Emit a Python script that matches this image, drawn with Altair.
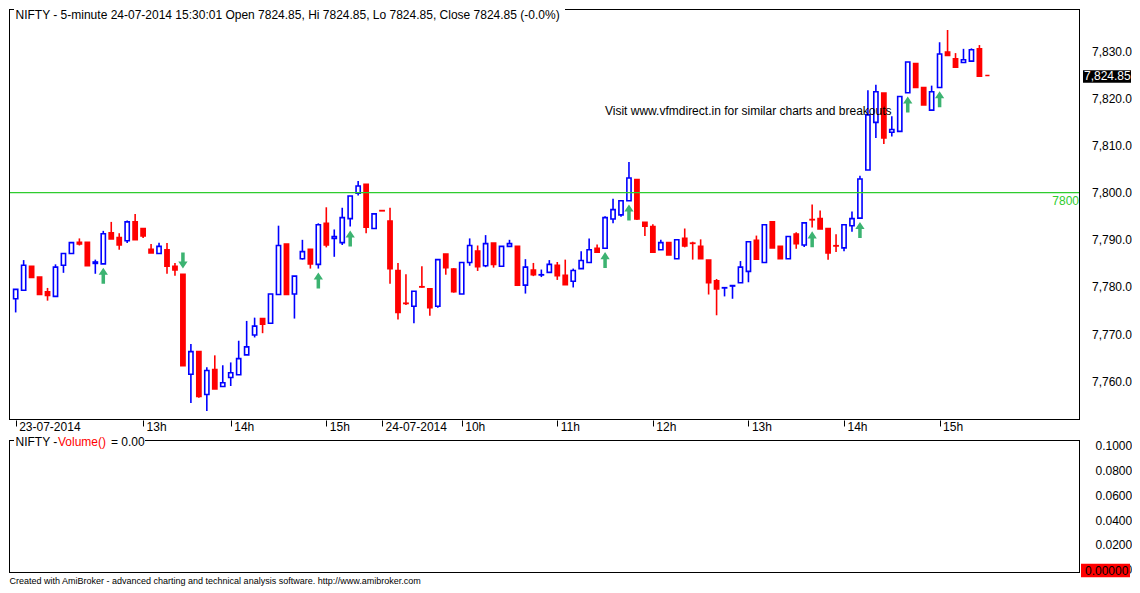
import json
import pandas as pd
import altair as alt

# ---------------- data ----------------
opens = [7777.5, 7779.3, 7784.4, 7782.1, 7779.0, 7778.0, 7784.6, 7787.1, 7789.5, 7789.5,
         7785.0, 7784.9, 7791.5, 7790.5, 7789.8, 7793.8, 7792.4, 7788.0, 7787.1, 7787.9,
         7784.4, 7782.7, 7761.5, 7766.3, 7757.2, 7762.5, 7758.9, 7760.8, 7761.4, 7765.6,
         7769.8, 7773.3, 7772.3, 7778.4, 7789.1, 7778.5, 7786.0, 7788.0, 7784.8, 7793.5,
         7790.3, 7789.4, 7794.5, 7799.9, 7801.8, 7792.4, 7796.2, 7794.0, 7783.5, 7776.55,
         7775.9, 7780.05, 7779.6, 7775.9, 7787.0, 7783.8, 7778.5, 7785.2, 7787.6, 7784.5,
         7789.3, 7784.4, 7788.6, 7788.6, 7780.4, 7783.6, 7782.55, 7783.1, 7784.6, 7782.5,
         7781.2, 7783.9, 7785.2, 7788.2, 7788.2, 7794.4, 7795.3, 7798.3, 7802.8, 7793.7,
         7792.8, 7787.9, 7789.4, 7786.0, 7790.3, 7789.3, 7788.6, 7785.7, 7781.3, 7779.8,
         7780.2, 7780.9, 7783.3, 7789.9, 7785.2, 7793.8, 7788.6, 7786.0, 7791.2, 7788.9,
         7794.3, 7794.5, 7792.4, 7788.75, 7788.3, 7793.0, 7794.6, 7804.8, 7814.9, 7821.1,
         7812.8, 7813.0, 7821.2, 7827.4, 7822.3, 7817.5, 7822.3, 7829.8, 7828.4, 7827.6,
         7827.9, 7830.5, 7824.85]
highs = [7779.5, 7785.7, 7784.4, 7782.1, 7779.8, 7784.8, 7787.1, 7789.4, 7790.3, 7789.5,
         7785.8, 7791.9, 7793.8, 7791.4, 7794.1, 7795.5, 7792.4, 7789.1, 7789.4, 7789.3,
         7785.1, 7782.7, 7767.9, 7766.3, 7763.0, 7765.5, 7763.4, 7764.0, 7768.6, 7772.8,
         7773.5, 7773.3, 7778.5, 7793.0, 7789.1, 7782.3, 7790.0, 7788.0, 7793.5, 7796.9,
         7792.2, 7796.8, 7799.3, 7802.5, 7801.8, 7795.5, 7796.2, 7796.8, 7785.1, 7782.7,
         7779.1, 7784.4, 7779.6, 7785.8, 7787.0, 7784.0, 7785.2, 7790.3, 7788.8, 7791.0,
         7789.3, 7788.6, 7790.0, 7788.6, 7785.9, 7785.1, 7783.7, 7785.7, 7785.3, 7785.8,
         7783.9, 7787.6, 7790.3, 7789.0, 7795.0, 7798.7, 7798.3, 7806.5, 7802.8, 7793.7,
         7793.3, 7790.0, 7789.4, 7790.0, 7792.4, 7789.6, 7790.1, 7785.7, 7781.7, 7779.85,
         7780.3, 7785.5, 7789.6, 7790.9, 7793.2, 7793.8, 7788.6, 7790.7, 7791.6, 7793.6,
         7797.5, 7796.2, 7792.4, 7791.2, 7793.2, 7796.0, 7803.6, 7821.7, 7822.9, 7821.1,
         7816.2, 7820.4, 7827.7, 7827.4, 7822.3, 7822.7, 7831.9, 7834.5, 7829.6, 7830.5,
         7830.6, 7831.3, 7824.85]
lows = [7774.6, 7779.3, 7782.0, 7778.4, 7777.1, 7778.0, 7783.0, 7787.1, 7788.8, 7784.5,
        7782.8, 7784.9, 7790.2, 7787.9, 7789.3, 7790.0, 7790.4, 7787.2, 7787.1, 7782.8,
        7782.4, 7763.3, 7755.4, 7756.5, 7753.7, 7758.4, 7758.9, 7759.0, 7761.4, 7765.6,
        7769.3, 7770.2, 7772.3, 7778.4, 7778.4, 7773.3, 7785.8, 7783.9, 7783.9, 7788.4,
        7786.4, 7788.9, 7792.8, 7799.4, 7791.4, 7792.4, 7796.15, 7780.7, 7773.1, 7776.2,
        7772.3, 7779.85, 7773.9, 7775.6, 7782.6, 7778.8, 7778.5, 7784.5, 7783.4, 7784.2,
        7784.1, 7784.4, 7788.6, 7780.2, 7778.6, 7782.3, 7782.1, 7783.1, 7781.5, 7780.5,
        7779.9, 7783.9, 7785.2, 7787.4, 7788.2, 7793.5, 7794.9, 7798.3, 7794.2, 7790.8,
        7787.4, 7787.9, 7786.8, 7786.0, 7788.4, 7785.8, 7786.0, 7778.4, 7774.0, 7778.0,
        7777.5, 7780.9, 7781.0, 7785.9, 7785.2, 7788.3, 7786.0, 7786.0, 7788.1, 7788.5,
        7792.6, 7792.3, 7785.8, 7787.4, 7787.6, 7791.7, 7794.6, 7804.8, 7811.6, 7810.3,
        7811.9, 7813.0, 7821.2, 7822.2, 7818.6, 7817.5, 7822.3, 7829.1, 7826.6, 7827.5,
        7827.9, 7824.7, 7824.85]
closes = [7779.5, 7784.6, 7782.0, 7778.4, 7778.2, 7784.2, 7787.1, 7789.4, 7789.1, 7784.5,
          7785.3, 7791.3, 7790.2, 7788.9, 7793.8, 7790.0, 7790.8, 7787.2, 7788.6, 7784.4,
          7783.6, 7763.3, 7766.3, 7756.8, 7762.3, 7758.4, 7759.7, 7761.8, 7764.8, 7767.3,
          7771.7, 7772.1, 7778.5, 7788.8, 7778.4, 7782.3, 7787.5, 7784.9, 7793.2, 7788.9,
          7790.7, 7794.7, 7799.3, 7801.4, 7792.7, 7795.5, 7796.15, 7783.9, 7774.6, 7776.5,
          7779.1, 7780.0, 7775.6, 7785.8, 7784.1, 7779.0, 7785.2, 7788.8, 7784.3, 7789.2,
          7784.8, 7788.6, 7789.2, 7780.4, 7784.2, 7782.6, 7782.6, 7784.8, 7782.4, 7780.5,
          7783.5, 7785.6, 7787.9, 7787.4, 7794.7, 7796.4, 7798.3, 7803.1, 7794.4, 7792.9,
          7787.4, 7789.4, 7786.8, 7790.0, 7788.7, 7789.25, 7786.0, 7780.9, 7779.6, 7779.85,
          7780.3, 7784.2, 7789.6, 7785.9, 7793.2, 7788.3, 7786.0, 7790.7, 7789.2, 7793.6,
          7794.25, 7792.3, 7787.2, 7788.7, 7793.2, 7794.5, 7802.9, 7816.5, 7821.4, 7811.6,
          7813.4, 7820.4, 7827.7, 7822.3, 7818.6, 7821.4, 7829.4, 7829.1, 7826.6, 7828.2,
          7830.3, 7824.7, 7824.85]

buy_arrows = [11, 38, 42, 74, 77, 100, 106, 112, 116]   # bar index with up arrow
sell_arrows = [21]                                        # bar index with down arrow

tick_idx = [0, 16, 27, 39, 46, 56, 68, 80, 92, 104, 116]
tick_lbl = ["23-07-2014", "13h", "14h", "15h", "24-07-2014", "10h", "11h", "12h",
            "13h", "14h", "15h"]
price_ticks = [7760, 7770, 7780, 7790, 7800, 7810, 7820, 7830]
level_line = [7800]
vol_ticks = [0.0, 0.02, 0.04, 0.06, 0.08, 0.1]
last_volume = [0.0]

title_txt = "NIFTY - 5-minute 24-07-2014 15:30:01 Open 7824.85, Hi 7824.85, Lo 7824.85, Close 7824.85 (-0.0%)"
watermark = "Visit www.vfmdirect.in for similar charts and breakouts"
footer = "Created with AmiBroker - advanced charting and technical analysis software. http://www.amibroker.com"

# ---------------- styling ----------------
FONT = "Liberation Sans"
BLUE = "#0000FF"
RED = "#FF0000"
GREEN = "#2ECC2E"
ARROW = "#3CB371"
W, H1, H2 = 1071, 411, 133

df = pd.DataFrame({"o": opens, "h": highs, "l": lows, "c": closes})
df["i"] = range(len(df))
df["dir"] = ["up" if c > o else "down" for o, c in zip(df.o, df.c)]
df["bt"] = df[["o", "c"]].max(axis=1)
df["bb"] = df[["o", "c"]].min(axis=1)

xs = alt.Scale(domain=[-0.21, 133.0], nice=False, zero=False)
ys = alt.Scale(domain=[7751.79, 7838.95], nice=False, zero=False)

label_expr = f"{json.dumps(tick_lbl)}[indexof({json.dumps(tick_idx)}, datum.value)]"
x_axis = alt.Axis(values=tick_idx, labelExpr=label_expr, orient="bottom", ticks=True,
                  tickSize=6, tickColor="black", tickWidth=1, domain=False, grid=False,
                  labelAlign="left", labelOffset=3, labelPadding=-4.2, labelFontSize=12,
                  labelColor="black", labelFont=FONT, labelOverlap=False, labelFlush=False,
                  title=None)
y_axis = alt.Axis(orient="right", values=price_ticks, format=",.1f", ticks=False,
                  domain=False, grid=False, labelPadding=11.5, labelFontSize=12,
                  labelColor="black", labelFont=FONT, labelOverlap=False, title=None)

base = alt.Chart(df)
dir_color = alt.Scale(domain=["up", "down"], range=[BLUE, RED])

wicks = base.mark_rule(strokeWidth=1.6, clip=True).encode(
    x=alt.X("i:Q", scale=xs, axis=x_axis),
    y=alt.Y("l:Q", scale=ys, axis=y_axis),
    y2="h:Q",
    color=alt.Color("dir:N", scale=dir_color, legend=None),
)
bodies = base.mark_bar(size=4.2, strokeWidth=1.6, clip=True, opacity=1).encode(
    x=alt.X("i:Q", scale=xs, axis=x_axis),
    y=alt.Y("bb:Q", scale=ys, axis=y_axis),
    y2="bt:Q",
    fill=alt.Fill("dir:N", scale=alt.Scale(domain=["up", "down"], range=["white", RED]), legend=None),
    stroke=alt.Stroke("dir:N", scale=dir_color, legend=None),
)

UP_PATH = "M0,-1L0.58,-0.12L0.22,-0.12L0.22,1L-0.22,1L-0.22,-0.12L-0.58,-0.12Z"
DOWN_PATH = "M0,1L0.58,0.12L0.22,0.12L0.22,-1L-0.22,-1L-0.22,0.12L-0.58,0.12Z"

up_arrows = alt.Chart(df.iloc[buy_arrows]).mark_point(
    shape=UP_PATH, size=256, filled=True, color=ARROW, opacity=1, strokeWidth=0,
    yOffset=11.8, clip=True
).encode(x=alt.X("i:Q", scale=xs, axis=x_axis), y=alt.Y("l:Q", scale=ys, axis=y_axis))

down_arrows = alt.Chart(df.iloc[sell_arrows]).mark_point(
    shape=DOWN_PATH, size=256, filled=True, color=ARROW, opacity=1, strokeWidth=0,
    yOffset=-13.8, clip=True
).encode(x=alt.X("i:Q", scale=xs, axis=x_axis), y=alt.Y("h:Q", scale=ys, axis=y_axis))

lvl_df = pd.DataFrame({"lvl": level_line})
lvl_line = alt.Chart(lvl_df).mark_rule(color=GREEN, strokeWidth=1.2).encode(
    y=alt.Y("lvl:Q", scale=ys, axis=y_axis))
lvl_text = alt.Chart(lvl_df).mark_text(align="right", baseline="middle", dy=8, color=GREEN,
                                       fontSize=12, font=FONT).encode(
    x=alt.value(W - 1), y=alt.Y("lvl:Q", scale=ys, axis=y_axis),
    text=alt.Text("lvl:Q", format="d"))

last = df.iloc[[-1]]
BOX = "M-1,-0.26L1,-0.26L1,0.26L-1,0.26Z"
price_box = alt.Chart(last).mark_point(shape=BOX, size=2304, filled=True, color="black",
                                        opacity=1, strokeWidth=0, yOffset=1).encode(
    x=alt.value(W + 27), y=alt.Y("c:Q", scale=ys, axis=y_axis))
price_txt = alt.Chart(last).mark_text(align="left", baseline="middle", color="white",
                                       fontSize=12, font=FONT, yOffset=1).encode(
    x=alt.value(W + 4), y=alt.Y("c:Q", scale=ys, axis=y_axis),
    text=alt.Text("c:Q", format=",.2f"))

one = pd.DataFrame({"k": [0]})
def rule(x, x2, y, y2):
    return alt.Chart(one).mark_rule(color="black", strokeWidth=1).encode(
        x=alt.value(x), x2=alt.value(x2), y=alt.value(y), y2=alt.value(y2))

def text(s, x, y, size=12, color="black"):
    return alt.Chart(one).mark_text(text=s, align="left", baseline="middle", fontSize=size,
                                    font=FONT, color=color).encode(
        x=alt.value(x), y=alt.value(y))

top_borders = [
    rule(0.5, 0.5, 0, H1),
    rule(W - 0.5, W - 0.5, 0, H1),
    rule(0, W, H1 - 0.5, H1 - 0.5),
    rule(0, 5, 0.5, 0.5),
    rule(556, W, 0.5, 0.5),
]

top = alt.layer(
    wicks, bodies, up_arrows, down_arrows, lvl_line, lvl_text,
    text(watermark, 596, 102),
    text(title_txt, 6.5, 6),
    price_box, price_txt,
    *top_borders,
).properties(width=W, height=H1)

# ---------------- volume pane ----------------
vdf = pd.DataFrame({"vol": last_volume})
vs = alt.Scale(domain=[-0.00262, 0.10452], nice=False, zero=False)
v_axis = alt.Axis(orient="right", values=vol_ticks, format=".4f", ticks=False, domain=False,
                  grid=False, labelPadding=15, labelFontSize=12, labelColor="black",
                  labelFont=FONT, labelOverlap=False, labelBound=False, title=None)
VBOX = "M-1,-0.278L1,-0.278L1,0.278L-1,0.278Z"
vol_box = alt.Chart(vdf).mark_point(shape=VBOX, size=2401, filled=True, color=RED,
                                     opacity=1, strokeWidth=0, yOffset=0.8).encode(
    x=alt.value(W + 25.5), y=alt.Y("vol:Q", scale=vs, axis=v_axis))
vol_txt = alt.Chart(vdf).mark_text(align="left", baseline="middle", color="black",
                                    fontSize=12, font=FONT, yOffset=0.8).encode(
    x=alt.value(W + 5), y=alt.Y("vol:Q", scale=vs, axis=v_axis),
    text=alt.Text("vol:Q", format=".5f"))

bottom = alt.layer(
    vol_box, vol_txt,
    rule(0.5, 0.5, 0, H2),
    rule(W - 0.5, W - 0.5, 0, H2),
    rule(0, W, H2 - 0.5, H2 - 0.5),
    rule(0, 5, 0.5, 0.5),
    rule(136, W, 0.5, 0.5),
    text("NIFTY - ", 6.5, 1.5),
    text("Volume()", 49, 1.5, color=RED),
    text("= 0.00", 102, 1.5),
    text(footer, 0.5, H2 + 7.5, size=9),
).properties(width=W, height=H2)

chart = alt.vconcat(top, bottom, spacing=20, bounds="flush", padding=0).configure_view(
    stroke=None).configure_text(font=FONT).configure_axis(labelOverlap=False)

chart.save("out.html", embed_options={"renderer": "svg", "actions": False})
